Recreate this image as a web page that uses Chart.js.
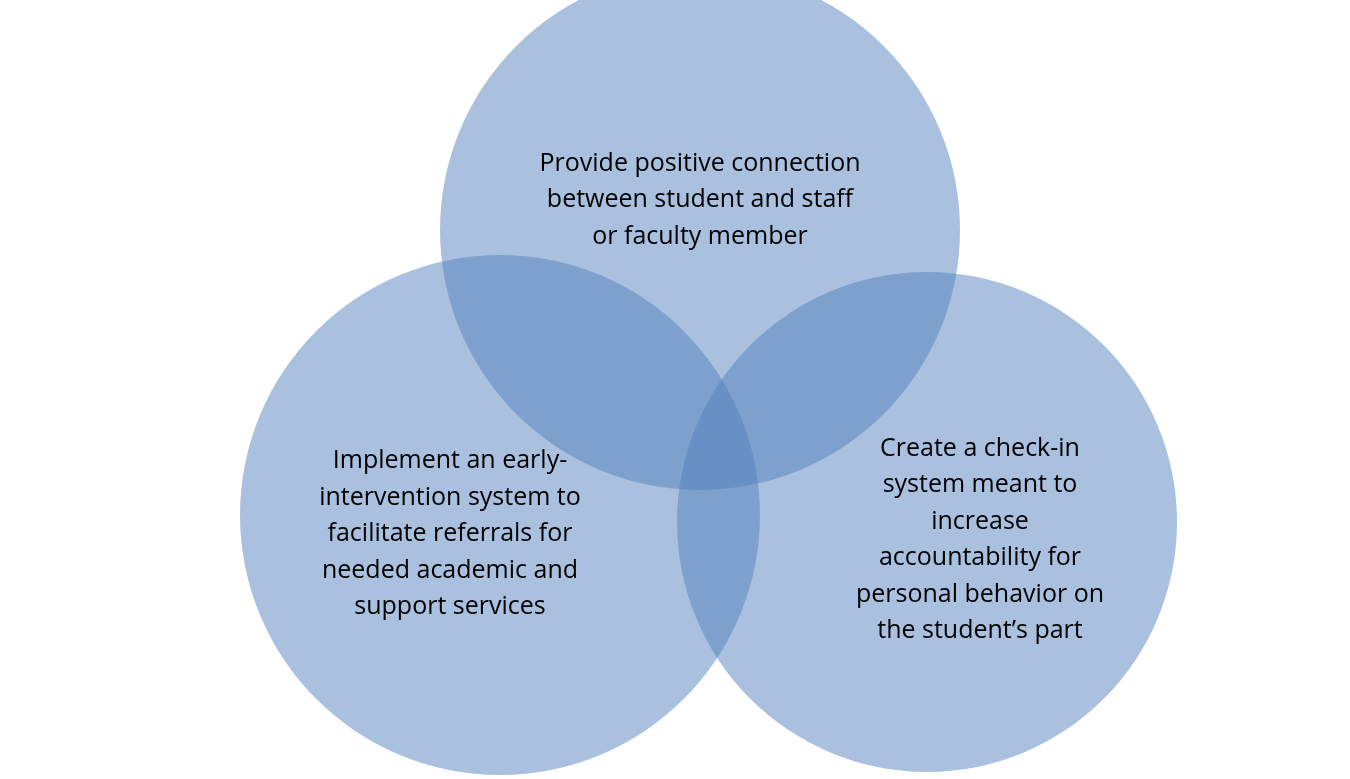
<!DOCTYPE html>
<html><head><meta charset="utf-8">
<script src="https://cdn.jsdelivr.net/npm/chart.js@4"></script>
<style>html,body{margin:0;padding:0;background:#fff;overflow:hidden}canvas{display:block}</style>
</head><body>
<canvas id="c" width="1350" height="779" style="width:1350px;height:779px"></canvas>
<script>
const circleX = [700, 500, 927];
const circleY = [230, 515, 522];
const circleR = [260, 260, 250];
const labels = [
  ["Provide positive connection","between student and staff","or faculty member"],
  ["Implement an early-","intervention system to","facilitate referrals for","needed academic and","support services"],
  ["Create a check-in","system meant to","increase","accountability for","personal behavior on","the student\u2019s part"]
];
const labelX = [700, 450, 980];
const labelY = [200, 534, 540];

const pts = circleX.map((x,i)=>({x:x,y:circleY[i],r:circleR[i]}));
const textPlugin = {
  id:'txt',
  afterDraw(chart){
    const ctx=chart.ctx, xs=chart.scales.x, ys=chart.scales.y;
    ctx.save();
    ctx.fillStyle='#000';
    ctx.font='25px "Open Sans", sans-serif';
    ctx.textAlign='center'; ctx.textBaseline='middle';
    labels.forEach((lines,i)=>{
      const lh=36.5, cx=xs.getPixelForValue(labelX[i]), cy=ys.getPixelForValue(labelY[i]);
      lines.forEach((t,j)=>ctx.fillText(t,cx,cy+(j-(lines.length-1)/2)*lh));
    });
    ctx.restore();
  }
};
new Chart(document.getElementById('c'),{
  type:'bubble',
  data:{datasets:[
    {data:pts, backgroundColor:'rgba(83,129,189,0.5)', borderWidth:0, hoverBorderWidth:0, clip:false},
    {data:pts, backgroundColor:'rgba(0,0,0,0)', borderColor:'#fff', borderWidth:3, clip:false}
  ]},
  options:{
    responsive:false, animation:false,
    layout:{padding:0, autoPadding:false},
    plugins:{legend:{display:false},tooltip:{enabled:false}},
    scales:{
      x:{type:'linear',min:0,max:1350,display:false},
      y:{type:'linear',min:0,max:779,reverse:true,display:false}
    }
  },
  plugins:[textPlugin]
});
</script>
</body></html>
